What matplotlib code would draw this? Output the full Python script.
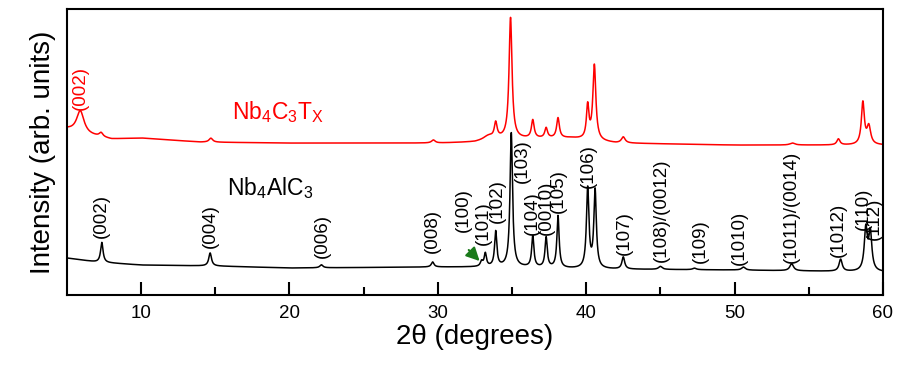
import numpy as np
import matplotlib
matplotlib.use('Agg')
import matplotlib.pyplot as plt

plt.rcParams['font.family'] = ['Liberation Sans', 'DejaVu Sans']
plt.rcParams['mathtext.fontset'] = 'custom'
plt.rcParams['mathtext.rm'] = 'Liberation Sans'
plt.rcParams['mathtext.it'] = 'Liberation Sans:italic'

# Nb4AlC3 (preta) - posicoes, alturas acima da linha base e larguras dos picos
alc_pos = [7.35, 14.65, 22.15, 29.65, 32.95, 33.2, 33.9, 34.95, 36.4, 37.3, 38.1,
           40.1, 40.6, 42.5, 45.0, 47.3, 50.6, 53.85, 57.15, 58.85, 59.15]
alc_alt = [20, 13, 3, 5, 5, 13, 35, 134, 31, 30, 52,
           80, 78, 12, 3, 1.5, 3, 7, 12, 42, 38]
alc_larg = [0.2, 0.22, 0.25, 0.22, 0.2, 0.18, 0.18, 0.2, 0.18, 0.18, 0.18,
            0.2, 0.2, 0.22, 0.3, 0.3, 0.3, 0.3, 0.25, 0.25, 0.25]
alc_base_x = [5, 7, 10, 15, 20, 30, 35, 40, 50, 60]
alc_base_y = [37, 33, 30, 29, 27, 28, 28, 26, 25, 23]

# Nb4C3Tx (vermelha)
mx_pos = [5.9, 7.3, 14.7, 29.7, 33.4, 33.9, 34.9, 36.4, 37.3, 38.1,
          40.1, 40.55, 42.5, 53.9, 57.0, 58.65, 59.05]
mx_alt = [22, 4, 4, 3, 4, 15, 121, 18, 10, 20,
          33, 75, 6, 2, 6, 42, 18]
mx_larg = [0.6, 0.3, 0.3, 0.3, 0.8, 0.22, 0.24, 0.22, 0.22, 0.22,
           0.2, 0.24, 0.3, 0.4, 0.25, 0.24, 0.3]
mx_base_x = [5, 6.5, 8, 10, 14, 20, 30, 32.5, 34, 39, 42, 50, 60]
mx_base_y = [166, 160, 156, 157, 153, 152, 152, 153, 156, 157, 152, 150, 150]

# indexacao dos picos do Nb4AlC3: (texto, 2theta, y da base do texto)
alc_hkl = ['(002)', '(004)', '(006)', '(008)', '(100)', '(101)', '(102)', '(103)',
           '(104)', '(0010)', '(105)', '(106)', '(107)', '(108)/(0012)', '(109)',
           '(1010)', '(1011)/(0014)', '(1012)', '(110)', '(112)']
alc_hkl_x = [7.35, 14.65, 22.2, 29.65, 31.7, 33.05, 34.0, 35.7,
             36.4, 37.3, 38.1, 40.15, 42.6, 45.1, 47.7,
             50.3, 53.8, 57.0, 58.7, 59.45]
alc_hkl_y = [57, 47, 37, 42, 63, 50, 72, 112,
             60, 60, 82, 107, 40, 33, 32,
             30, 32, 38, 65, 55]


def perfil(x, pos, alt, larg, bx, by):
    y = np.interp(x, bx, by)
    for p, h, w in zip(pos, alt, larg):
        y = y + h / (1 + ((x - p) / (w / 2)) ** 2)
    return y


x = np.linspace(5, 60, 6000)
y_alc = perfil(x, alc_pos, alc_alt, alc_larg, alc_base_x, alc_base_y)
y_mx = perfil(x, mx_pos, mx_alt, mx_larg, mx_base_x, mx_base_y)

fig = plt.figure(figsize=(9, 3.66), dpi=100)
ax = fig.add_axes([0.0744, 0.194, 0.9066, 0.781])

ax.plot(x, y_alc, color='black', lw=1.1)
ax.plot(x, y_mx, color='red', lw=1.1)

for t, px, py in zip(alc_hkl, alc_hkl_x, alc_hkl_y):
    ax.text(px, py, t, rotation=90, ha='center', va='bottom', fontsize=13.5)
ax.text(5.9, 185, '(002)', rotation=90, ha='center', va='bottom', fontsize=13.5, color='red')

ax.text(16.1, 176, r'Nb$_4$C$_3$T$_\mathrm{X}$', color='red', fontsize=16.5, ha='left', va='baseline')
ax.text(15.8, 100, r'Nb$_4$AlC$_3$', color='black', fontsize=16.5, ha='left', va='baseline')

# seta verde no pico pequeno
ax.annotate('', xy=(32.95, 32), xytext=(31.95, 47),
            arrowprops=dict(arrowstyle='-|>,head_length=0.8,head_width=0.4',
                            color='#1a7a1a', lw=1.5))

ax.set_xlim(5, 60)
ax.set_ylim(0, 286)
ax.set_xticks([10, 20, 30, 40, 50, 60])
ax.set_xticks([15, 25, 35, 45, 55], minor=True)
ax.set_yticks([])
ax.tick_params(axis='x', which='major', direction='in', length=9.5, width=1.5,
               labelsize=13.5, pad=7)
ax.tick_params(axis='x', which='minor', direction='in', length=5.5, width=1.5)
for s in ax.spines.values():
    s.set_linewidth(1.5)

ax.set_xlabel('2θ (degrees)', fontsize=20, labelpad=2)
ax.set_ylabel('Intensity (arb. units)', fontsize=20, labelpad=8)

plt.savefig('out.png', dpi=100)
plt.close()
